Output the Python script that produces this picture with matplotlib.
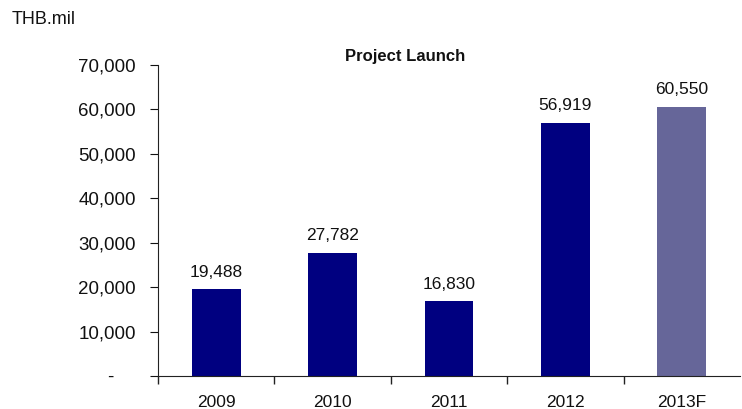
import matplotlib
matplotlib.use("Agg")
import matplotlib.pyplot as plt
from matplotlib.ticker import FuncFormatter, FixedLocator

plt.rcParams['font.family'] = ['Liberation Sans', 'DejaVu Sans']

categories = ["2009", "2010", "2011", "2012", "2013F"]
values = [19488, 27782, 16830, 56919, 60550]
colors = ["#000080", "#000080", "#000080", "#000080", "#666699"]
yticks = [0, 10000, 20000, 30000, 40000, 50000, 60000, 70000]

fig = plt.figure(figsize=(7.42, 4.09), dpi=100)
ax = fig.add_axes([158/742, 1 - 376/409, (740-158)/742, (376-65)/409])

x = list(range(len(categories)))
bars = ax.bar(x, values, width=0.42, color=colors)
for xi, v in zip(x, values):
    ax.annotate(f"{v:,}", (xi, v), xytext=(0, 7), textcoords="offset points",
                ha="center", va="bottom", fontsize=12.5, color="#111111")

ax.set_xlim(-0.5, len(categories) - 0.5)
ax.set_ylim(0, 70000)
ax.set_yticks(yticks)
ax.yaxis.set_major_formatter(FuncFormatter(lambda v, p: "-    " if v == 0 else f"{int(v):,}"))
ax.tick_params(axis='y', direction='out', length=6, labelsize=13.5, pad=10, colors="#111111")

ax.set_xticks(x)
ax.set_xticklabels(categories)
ax.xaxis.set_minor_locator(FixedLocator([i - 0.5 for i in range(len(categories))]))
ax.tick_params(axis='x', which='major', length=0, labelsize=12.5, pad=14, colors="#111111")
ax.tick_params(axis='x', which='minor', direction='out', length=6, width=1, color="#222222")

for s in ["top", "right"]:
    ax.spines[s].set_visible(False)
ax.spines["left"].set_color("#222222")
ax.spines["bottom"].set_color("#222222")

fig.text(405/742, 1 - 56/409, "Project Launch", ha="center", va="center",
         fontsize=12, fontweight="bold", color="#111111")
fig.text(12/742, 1 - 20/409, "THB.mil", ha="left", va="center", fontsize=13, color="#111111")

fig.savefig("out.png", dpi=100)
